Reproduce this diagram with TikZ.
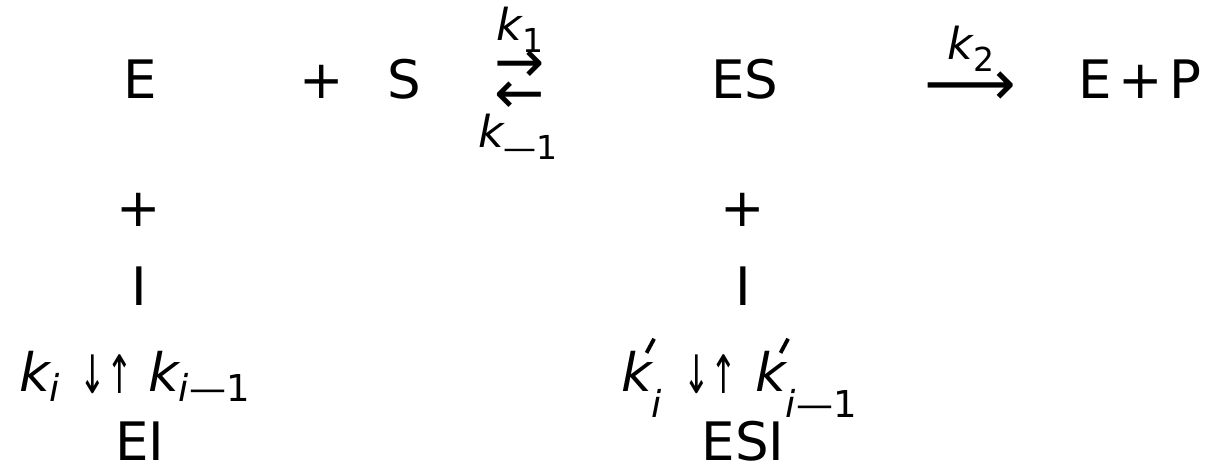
\documentclass[tikz,border=0pt]{standalone}
\usepackage{fontspec}
\usepackage{graphicx}
\setmainfont{DejaVu Sans}
\newcommand{\bigf}{\fontsize{53}{60}\selectfont}
\newcommand{\kf}{\fontsize{44}{48}\selectfont}
\newcommand{\lo}[1]{\raisebox{-0.27em}{\fontsize{33}{36}\selectfont #1}}
\newcommand{\slo}[1]{\raisebox{-0.2em}{\fontsize{37}{40}\selectfont #1}}
\newcommand{\sloo}[1]{\raisebox{-0.5em}{\fontsize{37}{40}\selectfont #1}}
\newcommand{\kk}{{\itshape k}}
\newcommand{\kp}{{\itshape k}\rlap{\hspace{-7pt}\raisebox{39pt}{\rotatebox{-28}{\rule{3.8pt}{16pt}}}}}
\newcommand{\dnup}{{\fontsize{53}{60}\selectfont\scalebox{0.6}[1]{↓}\scalebox{0.6}[1]{↑}}}
\newcommand{\mi}{—}
\begin{document}
\begin{tikzpicture}[x=1pt,y=-1pt,
  txt/.style={inner sep=0pt,anchor=base,font=\bigf},
  lab/.style={inner sep=0pt,anchor=base,font=\kf},
  rowk/.style={inner sep=0pt,anchor=base west,font=\bigf},
  arr/.style={inner sep=0pt,anchor=center,font=\fontsize{60}{66}\selectfont}]
\useasboundingbox (0,0) rectangle (1211,476);
% row 1
\node[txt] (E) at (140,99) {E};
\node[txt] (p1) at (322,99) {+};
\node[txt] (S) at (404,99) {S};
\node[lab] (k1) at (520,41) {\kk\lo{1}};
\node[arr] (fw) at (520,67) {→};
\node[arr] (bw) at (520,98) {←};
\node[lab] (km1) at (518,148) {\kk\lo{\mi1}};
\node[txt] (ES) at (745,99) {ES};
\node[arr,font=\fontsize{64}{70}\selectfont] (long) at (970,89) {⟶};
\node[lab] (k2) at (971,60) {\kk\lo{2}};
\node[txt] (EP) at (1140,99) {E\hspace{0.12em}+\hspace{0.12em}P};
% left column
\node[txt] (p2) at (139,226) {+};
\node[txt] (I1) at (139,305) {I};
\node[rowk] (ki) at (19,391) {\kk\slo{\itshape i}};
\node[txt] (da) at (106.5,393) {\dnup};
\node[rowk] (kim) at (148,391) {\kk\slo{{\itshape i}\mi1}};
\node[txt] (EI) at (140,460) {EI};
% right column
\node[txt] (p3) at (743,226) {+};
\node[txt] (I2) at (743,305) {I};
\node[rowk] (kpi) at (621,391) {\kp\sloo{\itshape i}};
\node[txt] (db) at (710,393) {\dnup};
\node[rowk] (kpim) at (755,391) {\kp\sloo{{\itshape i}\mi1}};
\node[txt] (ESI) at (743,460) {ESI};
\end{tikzpicture}
\end{document}
